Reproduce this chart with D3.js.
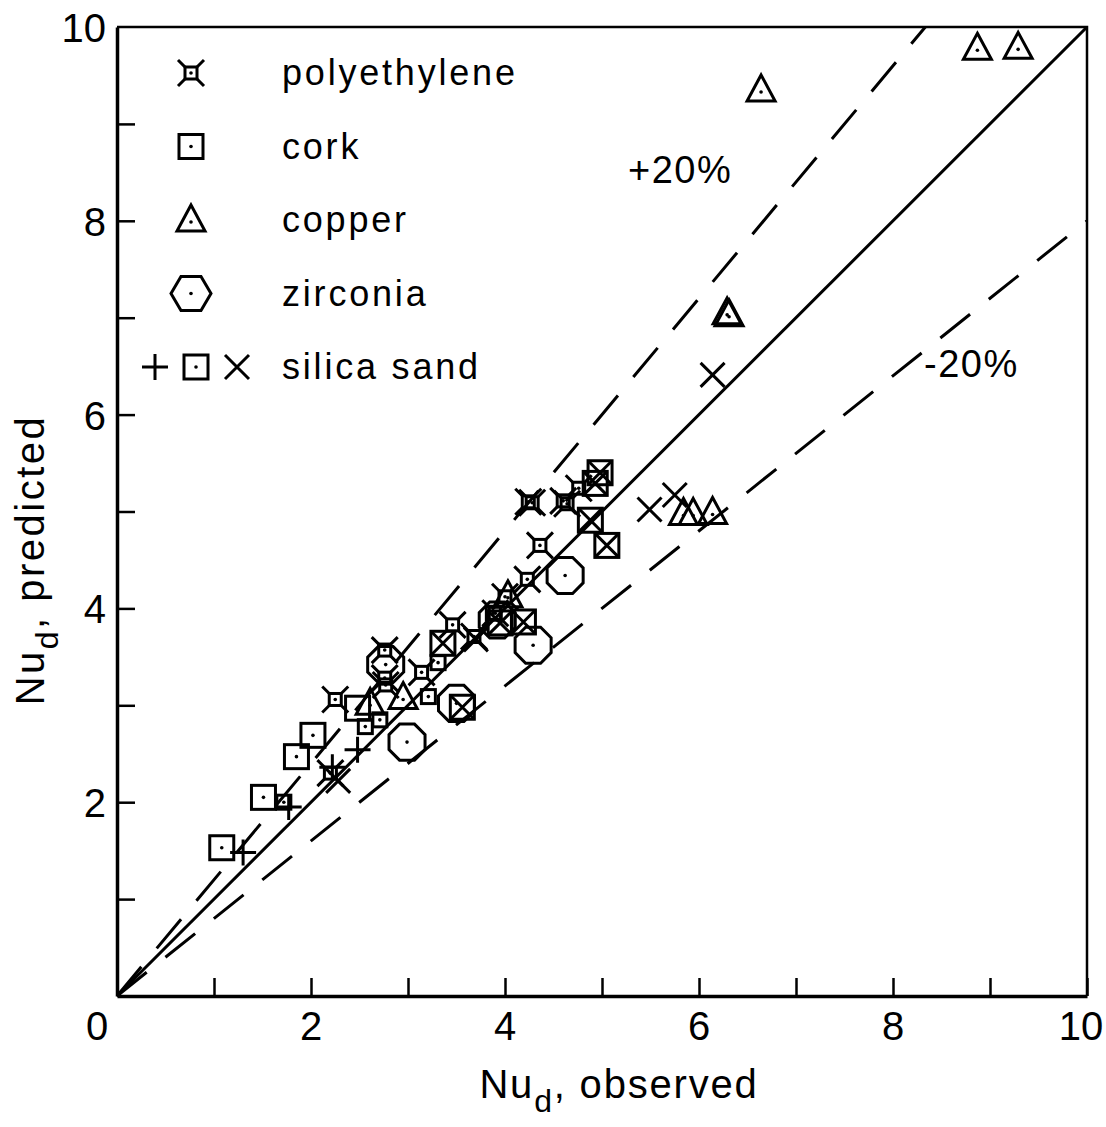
<!DOCTYPE html>
<html>
<head>
<meta charset="utf-8">
<script src="https://cdn.jsdelivr.net/npm/d3@7"></script>
<style>
  html, body { margin: 0; padding: 0; background: #fff; }
  svg { display: block; font-family: "Liberation Sans", Arial, sans-serif; }
</style>
</head>
<body>
<svg id="chart" width="1106" height="1127"></svg>
<script>
// values: [observed, predicted]
const polyethylene = [
  [4.24, 5.10], [4.28, 5.09], [4.60, 5.11], [4.64, 5.08], [4.36, 4.65],
  [4.23, 4.30], [4.76, 5.24], [2.76, 3.57], [2.76, 3.28], [2.77, 3.21],
  [2.25, 3.06], [3.46, 3.83], [3.14, 3.34], [3.68, 3.71], [3.90, 3.95],
  [4.00, 4.12], [2.20, 2.30]
];
const cork = [[1.08, 1.53], [1.51, 2.05], [1.85, 2.47], [2.02, 2.69], [2.48, 2.97]];
const copper = [
  [6.29, 7.05], [6.31, 7.03], [6.64, 9.35], [8.87, 9.78], [9.29, 9.79],
  [5.84, 4.98], [5.94, 4.98], [6.14, 4.99], [2.61, 3.02], [2.95, 3.08], [4.03, 4.13]
];
const zirconia = [[2.99, 2.62], [3.50, 3.02], [4.29, 3.62], [4.62, 4.34], [2.77, 3.42], [3.92, 3.88]];
const sandPlus = [[1.30, 1.48], [1.77, 1.95], [2.22, 2.36], [2.48, 2.54]];
const sandSquare = [[1.72, 2.00], [2.56, 2.78], [2.71, 2.85], [3.21, 3.09], [3.31, 3.44], [3.88, 3.95]];
const sandCross = [[2.28, 2.22], [5.49, 5.02], [5.75, 5.17], [6.14, 6.41], [3.70, 3.68]];
const boxedCross = [
  [4.98, 5.40], [4.93, 5.29], [4.88, 4.91], [5.05, 4.65],
  [3.36, 3.64], [3.56, 2.98], [3.95, 3.85], [4.19, 3.86]
];

const xTickValues = [0, 1, 2, 3, 4, 5, 6, 7, 8, 9, 10];
const xTickLabels = [0, 2, 4, 6, 8, 10];
const yTickLabels = [2, 4, 6, 8, 10];
const bandRatios = [1.2, 0.8];
const bandLabels = ["+20%", "-20%"];
const legendItems = ["polyethylene", "cork", "copper", "zirconia", "silica sand"];

const svg = d3.select("#chart");

const x = d3.scaleLinear().domain([0, 10]).range([117, 1087]);
const y = d3.scaleLinear().domain([0, 10]).range([996, 27]);

//=== frame (top + right) ===
svg.append("path")
  .attr("d", `M${x(0)},${y(10)}H${x(10)}V${y(0)}`)
  .attr("fill", "none").attr("stroke", "#000").attr("stroke-width", 2.5);

//=== axes with inward ticks ===
const xAxis = svg.append("g")
  .attr("transform", `translate(0,${y(0)})`)
  .call(d3.axisBottom(x).tickValues(xTickValues).tickSizeInner(-18).tickSizeOuter(0).tickFormat(""));
const yAxis = svg.append("g")
  .attr("transform", `translate(${x(0)},0)`)
  .call(d3.axisLeft(y).tickValues(xTickValues.slice(1, 10)).tickSizeInner(-18).tickSizeOuter(0).tickFormat(""));
[xAxis, yAxis].forEach((g) => {
  g.selectAll("path").attr("stroke", "#000").attr("stroke-width", 3.5);
  g.selectAll("line").attr("stroke", "#000").attr("stroke-width", 2.5);
});

svg.append("g").selectAll("text")
  .data(xTickLabels)
  .join("text")
  .attr("x", (d) => (d === 0 ? x(0) - 20 : d === 10 ? x(d) - 6 : x(d)))
  .attr("y", 1040)
  .attr("text-anchor", "middle")
  .attr("font-size", 40)
  .text((d) => d);

svg.append("g").selectAll("text")
  .data(yTickLabels)
  .join("text")
  .attr("x", 106)
  .attr("y", (d) => y(d) + 15)
  .attr("text-anchor", "end")
  .attr("font-size", 40)
  .text((d) => d);

//=== axis titles ===
const xTitle = svg.append("text")
  .attr("x", 619).attr("y", 1098)
  .attr("text-anchor", "middle")
  .attr("font-size", 40)
  .attr("letter-spacing", 1.8);
xTitle.append("tspan").text("Nu");
xTitle.append("tspan").attr("dy", 14).attr("font-size", 32).text("d");
xTitle.append("tspan").attr("dy", -14).text(", observed");

const yTitle = svg.append("text")
  .attr("transform", "translate(44,560) rotate(-90)")
  .attr("text-anchor", "middle")
  .attr("font-size", 40)
  .attr("letter-spacing", 2.5);
yTitle.append("tspan").text("Nu");
yTitle.append("tspan").attr("dy", 14).attr("font-size", 32).text("d");
yTitle.append("tspan").attr("dy", -14).text(", predicted");

//=== parity line and +/-20% lines ===
const line = d3.line().x((d) => x(d[0])).y((d) => y(d[1]));
svg.append("path")
  .datum([[0, 0], [10, 10]])
  .attr("d", line)
  .attr("fill", "none").attr("stroke", "#000").attr("stroke-width", 3);

bandRatios.forEach((r) => {
  const xEnd = Math.min(10, 10 / r);
  svg.append("path")
    .datum([[0, 0], [xEnd, xEnd * r]])
    .attr("d", line)
    .attr("fill", "none").attr("stroke", "#000").attr("stroke-width", 3)
    .attr("stroke-dasharray", "38 24");
});

svg.append("text").attr("x", 628).attr("y", 183).attr("font-size", 38)
  .attr("letter-spacing", 1.5).text(bandLabels[0]);
svg.append("text").attr("x", 924).attr("y", 377).attr("font-size", 38)
  .attr("letter-spacing", 1.5).text(bandLabels[1]);

//=== markers ===
function marker(g, type, cx, cy) {
  const m = g.append("g").attr("transform", `translate(${cx},${cy})`)
    .attr("fill", "none").attr("stroke", "#000").attr("stroke-width", 3);
  const dot = () => m.append("circle").attr("r", 1.8).attr("fill", "#000").attr("stroke", "none");
  if (type === "poly") {
    m.append("rect").attr("x", -6).attr("y", -6).attr("width", 12).attr("height", 12);
    m.append("path").attr("d", "M-6,-6L-13,-13M6,-6L13,-13M-6,6L-13,13M6,6L13,13");
    dot();
  } else if (type === "cork") {
    m.append("rect").attr("x", -12).attr("y", -12).attr("width", 24).attr("height", 24);
    dot();
  } else if (type === "copper") {
    m.append("path").attr("d", "M0,-15L14,11L-14,11Z").attr("stroke-linejoin", "miter");
    m.append("circle").attr("cy", 2).attr("r", 1.8).attr("fill", "#000").attr("stroke", "none");
  } else if (type === "zirconia") {
    const pts = d3.range(8).map((i) => {
      const a = Math.PI / 8 + (i * Math.PI) / 4;
      return [19.5 * Math.cos(a), 19.5 * Math.sin(a)];
    });
    m.append("path").attr("d", "M" + pts.join("L") + "Z");
    dot();
  } else if (type === "hexagon") {
    m.append("path").attr("d", "M-20,0L-10,-17L10,-17L20,0L10,17L-10,17Z");
    dot();
  } else if (type === "plus") {
    m.append("path").attr("d", "M-13,0H13M0,-13V13");
  } else if (type === "smallSquare") {
    m.append("rect").attr("x", -7).attr("y", -7).attr("width", 14).attr("height", 14);
    dot();
  } else if (type === "cross") {
    m.append("path").attr("d", "M-12,-12L12,12M12,-12L-12,12");
  } else if (type === "boxCross") {
    m.append("rect").attr("x", -12).attr("y", -12).attr("width", 24).attr("height", 24);
    m.append("path").attr("d", "M-12,-12L12,12M12,-12L-12,12");
  }
}

const pointsLayer = svg.append("g");
const seriesList = [
  ["poly", polyethylene], ["cork", cork], ["copper", copper], ["zirconia", zirconia],
  ["plus", sandPlus], ["smallSquare", sandSquare], ["cross", sandCross], ["boxCross", boxedCross]
];
seriesList.forEach(([type, data]) => {
  data.forEach((d) => marker(pointsLayer, type, x(d[0]), y(d[1])));
});

//=== legend ===
const legend = svg.append("g");
const legendTypes = ["poly", "cork", "copper", "hexagon"];
legendItems.forEach((label, i) => {
  const cy = 73 + i * 73.5;
  if (i < 4) {
    marker(legend, legendTypes[i], 191, cy);
  } else {
    marker(legend, "plus", 155, cy);
    marker(legend, "cork", 196, cy);
    marker(legend, "cross", 237, cy);
  }
  legend.append("text")
    .attr("x", 282).attr("y", cy + 12)
    .attr("font-size", 36)
    .attr("letter-spacing", 2.8)
    .text(label);
});
</script>
</body>
</html>
